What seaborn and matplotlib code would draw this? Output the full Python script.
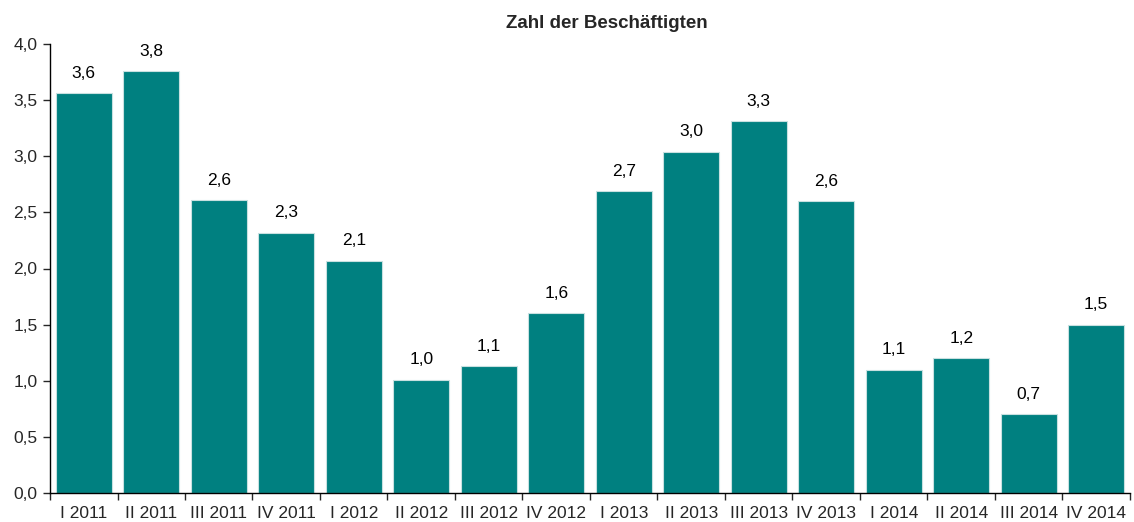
import pandas as pd
import seaborn as sns
import matplotlib.pyplot as plt
from matplotlib.ticker import FixedLocator, MultipleLocator, FuncFormatter

# Daten
quartale = ['I 2011', 'II 2011', 'III 2011', 'IV 2011',
            'I 2012', 'II 2012', 'III 2012', 'IV 2012',
            'I 2013', 'II 2013', 'III 2013', 'IV 2013',
            'I 2014', 'II 2014', 'III 2014', 'IV 2014']
werte = [3.56, 3.76, 2.61, 2.32, 2.07, 1.01, 1.13, 1.60,
         2.69, 3.04, 3.31, 2.60, 1.10, 1.20, 0.70, 1.50]
titel = 'Zahl der Beschäftigten'

sns.set_style('white')
plt.rcParams['font.family'] = ['Liberation Sans', 'DejaVu Sans']

df = pd.DataFrame({'quartal': quartale, 'wert': werte})

fig = plt.figure(figsize=(11.34, 5.22), dpi=100)
ax = fig.add_axes([50 / 1134, 1 - 493 / 522, 1080 / 1134, 449 / 522])

sns.barplot(data=df, x='quartal', y='wert', color='#008080', saturation=1,
            width=0.83, edgecolor='#c8e0e0', linewidth=0.8, ax=ax)

# Beschriftung der Balken
for i, v in enumerate(werte):
    ax.text(i, v + 0.11, f'{v:.1f}'.replace('.', ','), ha='center', va='bottom',
            fontsize=12.5, color='black')

ax.set_ylim(0, 4.0)
ax.set_xlim(-0.5, len(quartale) - 0.5)
ax.yaxis.set_major_locator(MultipleLocator(0.5))
ax.yaxis.set_major_formatter(FuncFormatter(lambda y, _: f'{y:.1f}'.replace('.', ',')))
ax.tick_params(axis='y', direction='out', length=5, width=1, labelsize=12.5, left=True, pad=4)

# Striche zwischen den Kategorien
ax.xaxis.set_minor_locator(FixedLocator([i - 0.5 for i in range(len(quartale) + 1)]))
ax.tick_params(axis='x', which='major', length=0, labelsize=12.5, pad=9)
ax.tick_params(axis='x', which='minor', direction='out', length=5, width=1, bottom=True)

ax.set_xlabel('')
ax.set_ylabel('')
for s in ['top', 'right']:
    ax.spines[s].set_visible(False)
for s in ['left', 'bottom']:
    ax.spines[s].set_color('black')
    ax.spines[s].set_linewidth(1)

fig.text(607 / 1134, 1 - 23 / 522, titel, ha='center', va='center',
         fontsize=13.5, fontweight='bold')

plt.savefig('out.png', dpi=100)
